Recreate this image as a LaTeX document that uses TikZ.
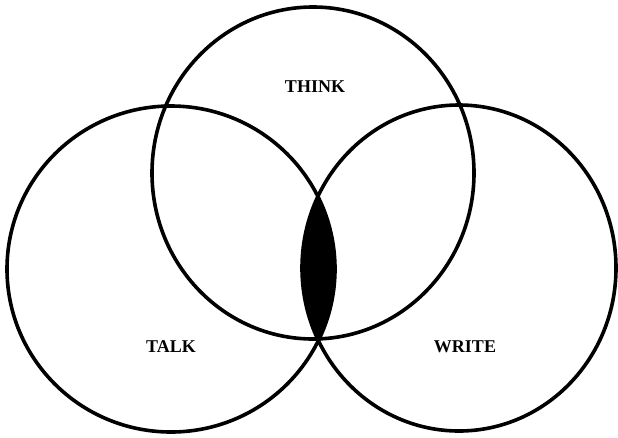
\documentclass[tikz,border=0pt]{standalone}
\usepackage{fontspec}
\setmainfont{Liberation Serif}
\begin{document}
\begin{tikzpicture}[x=1pt,y=-1pt,
  ring/.style={draw=black,line width=3.6pt},
  lbl/.style={font=\fontsize{18}{20}\selectfont\bfseries,inner sep=0pt}]
\useasboundingbox (0,0) rectangle (618,437);
% lens fill (intersection of TALK and WRITE)
\begin{scope}
  \clip (171,269) ellipse [x radius=164, y radius=163];
  \fill[black] (459,268) ellipse [x radius=157, y radius=163];
\end{scope}
\draw[ring] (313,173) ellipse [x radius=161, y radius=166];
\draw[ring] (171,269) ellipse [x radius=164, y radius=163];
\draw[ring] (459,268) ellipse [x radius=157, y radius=163];
\node[lbl] (think) at (315,87) {THINK};
\node[lbl] (talk) at (171,347) {TALK};
\node[lbl] (write) at (465,347) {WRITE};
\end{tikzpicture}
\end{document}
